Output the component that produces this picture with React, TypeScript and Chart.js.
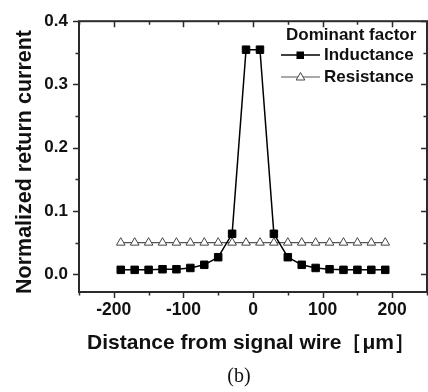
import React, { useEffect, useRef } from 'react';
import { Chart, registerables } from 'chart.js';

Chart.register(...registerables);

const distances = [-190, -170, -150, -130, -110, -90, -70, -50, -30, -10, 10, 30, 50, 70, 90, 110, 130, 150, 170, 190];
const inductance = [0.007, 0.007, 0.007, 0.008, 0.008, 0.010, 0.015, 0.027, 0.064, 0.355, 0.355, 0.064, 0.027, 0.015, 0.010, 0.008, 0.007, 0.007, 0.007, 0.007];
const resistance = [0.05, 0.05, 0.05, 0.05, 0.05, 0.05, 0.05, 0.05, 0.05, 0.05, 0.05, 0.05, 0.05, 0.05, 0.05, 0.05, 0.05, 0.05, 0.05, 0.05];
const xMajorTicks = [-200, -100, 0, 100, 200];
const xMinorTicks = [-250, -150, -50, 50, 150, 250];
const yMajorTicks = [0, 0.1, 0.2, 0.3, 0.4];
const yMinorTicks = [0.05, 0.15, 0.25, 0.35];
const legendTitle = 'Dominant factor';
const seriesNames = ['Inductance', 'Resistance'];
const xTitle = 'Distance from signal wire［μm］';
const yTitle = 'Normalized return current';
const caption = '(b)';

const SANS = '"Liberation Sans", Arial, sans-serif';
const SERIF = '"Liberation Serif", "Times New Roman", serif';
const AXIS = '#2b2b2b';

const framePlugin = {
  id: 'frameAndTexts',
  afterDraw(chart: any) {
    const ctx = chart.ctx;
    const { left, right, top, bottom } = chart.chartArea;
    const xs = chart.scales.x;
    const ys = chart.scales.y;
    ctx.save();
    ctx.strokeStyle = AXIS;
    ctx.lineWidth = 2;
    ctx.strokeRect(left, top, right - left, bottom - top);
    ctx.lineWidth = 1.5;
    ctx.beginPath();
    const MJ = 6, MN = 3.5;
    xMajorTicks.forEach((v) => {
      const px = Math.round(xs.getPixelForValue(v)) + 0.5;
      ctx.moveTo(px, bottom); ctx.lineTo(px, bottom + MJ);
      ctx.moveTo(px, top); ctx.lineTo(px, top + MJ);
    });
    xMinorTicks.forEach((v) => {
      const px = Math.round(xs.getPixelForValue(v)) + 0.5;
      ctx.moveTo(px, bottom); ctx.lineTo(px, bottom + MN);
      ctx.moveTo(px, top); ctx.lineTo(px, top + MN);
    });
    yMajorTicks.forEach((v) => {
      const py = Math.round(ys.getPixelForValue(v)) + 0.5;
      ctx.moveTo(left, py); ctx.lineTo(left - MJ, py);
      ctx.moveTo(right, py); ctx.lineTo(right - MJ, py);
    });
    yMinorTicks.forEach((v) => {
      const py = Math.round(ys.getPixelForValue(v)) + 0.5;
      ctx.moveTo(left, py); ctx.lineTo(left - MN, py);
      ctx.moveTo(right, py); ctx.lineTo(right - MN, py);
    });
    ctx.stroke();

    // axis titles
    ctx.fillStyle = '#111';
    ctx.font = `bold 21px ${SANS}`;
    ctx.textAlign = 'center';
    ctx.textBaseline = 'middle';
    ctx.fillText(xTitle, 251, 343);
    ctx.save();
    ctx.translate(25, 162);
    ctx.rotate(-Math.PI / 2);
    ctx.font = `bold 21.5px ${SANS}`;
    ctx.fillText(yTitle, 0, 0);
    ctx.restore();
    ctx.font = `20px ${SERIF}`;
    ctx.fillText(caption, 239, 377);

    // legend
    ctx.font = `bold 17px ${SANS}`;
    ctx.textAlign = 'left';
    ctx.fillText(legendTitle, 286, 35);
    ctx.fillText(seriesNames[0], 324, 55);
    ctx.fillText(seriesNames[1], 324, 77);
    // inductance sample
    ctx.strokeStyle = '#000';
    ctx.lineWidth = 1.5;
    ctx.beginPath();
    ctx.moveTo(281, 55); ctx.lineTo(320, 55);
    ctx.stroke();
    ctx.fillStyle = '#000';
    ctx.fillRect(296.5, 51.5, 7.5, 7.5);
    // resistance sample
    ctx.strokeStyle = '#555';
    ctx.lineWidth = 1.2;
    ctx.beginPath();
    ctx.moveTo(281, 77); ctx.lineTo(320, 77);
    ctx.stroke();
    ctx.fillStyle = '#fff';
    ctx.strokeStyle = '#444';
    ctx.lineWidth = 1;
    ctx.beginPath();
    ctx.moveTo(300.5, 72.5); ctx.lineTo(304.8, 80); ctx.lineTo(296.2, 80); ctx.closePath();
    ctx.fill(); ctx.stroke();
    ctx.restore();
  },
};

export default function App() {
  const ref = useRef<HTMLCanvasElement | null>(null);
  useEffect(() => {
    if (!ref.current) return;
    const chart = new Chart(ref.current, {
      type: 'scatter',
      data: {
        datasets: [
          {
            label: seriesNames[1],
            data: distances.map((d, i) => ({ x: d, y: resistance[i] })),
            showLine: true,
            borderColor: '#555',
            borderWidth: 1.2,
            pointStyle: 'triangle',
            pointRadius: 5,
            pointBackgroundColor: '#fff',
            pointBorderColor: '#444',
            pointBorderWidth: 1,
            order: 2,
          },
          {
            label: seriesNames[0],
            data: distances.map((d, i) => ({ x: d, y: inductance[i] })),
            showLine: true,
            borderColor: '#000',
            borderWidth: 1.5,
            pointStyle: 'rect',
            pointRadius: 5.3,
            pointBackgroundColor: '#000',
            pointBorderColor: '#000',
            pointBorderWidth: 1,
            order: 1,
          },
        ],
      },
      options: {
        animation: false,
        responsive: false,
        layout: { autoPadding: false, padding: { top: 9, right: 1, left: 0, bottom: 0 } },
        plugins: { legend: { display: false }, tooltip: { enabled: false } },
        scales: {
          x: {
            type: 'linear',
            min: -250,
            max: 250,
            grid: { display: false, drawTicks: false },
            border: { display: false },
            afterBuildTicks: (s: any) => { s.ticks = xMajorTicks.map((v) => ({ value: v })); },
            afterFit: (s: any) => { s.height = 100; },
            ticks: {
              padding: 8,
              color: '#111',
              font: { family: SANS, size: 17.5, weight: 'bold' },
              callback: (v: any) => String(v),
            },
          },
          y: {
            type: 'linear',
            min: -0.028,
            max: 0.4,
            grid: { display: false, drawTicks: false },
            border: { display: false },
            afterBuildTicks: (s: any) => { s.ticks = yMajorTicks.map((v) => ({ value: v })); },
            afterFit: (s: any) => { s.width = 79; },
            ticks: {
              padding: 11,
              color: '#111',
              font: { family: SANS, size: 17, weight: 'bold' },
              callback: (v: any) => Number(v).toFixed(1),
            },
          },
        },
      },
      plugins: [framePlugin],
    });
    return () => chart.destroy();
  }, []);
  return (
    <div style={{ position: 'fixed', left: 0, top: 0, width: 428, height: 392, background: '#fff' }}>
      <canvas ref={ref} width={428} height={392} style={{ display: 'block', width: 428, height: 392 }} />
    </div>
  );
}
